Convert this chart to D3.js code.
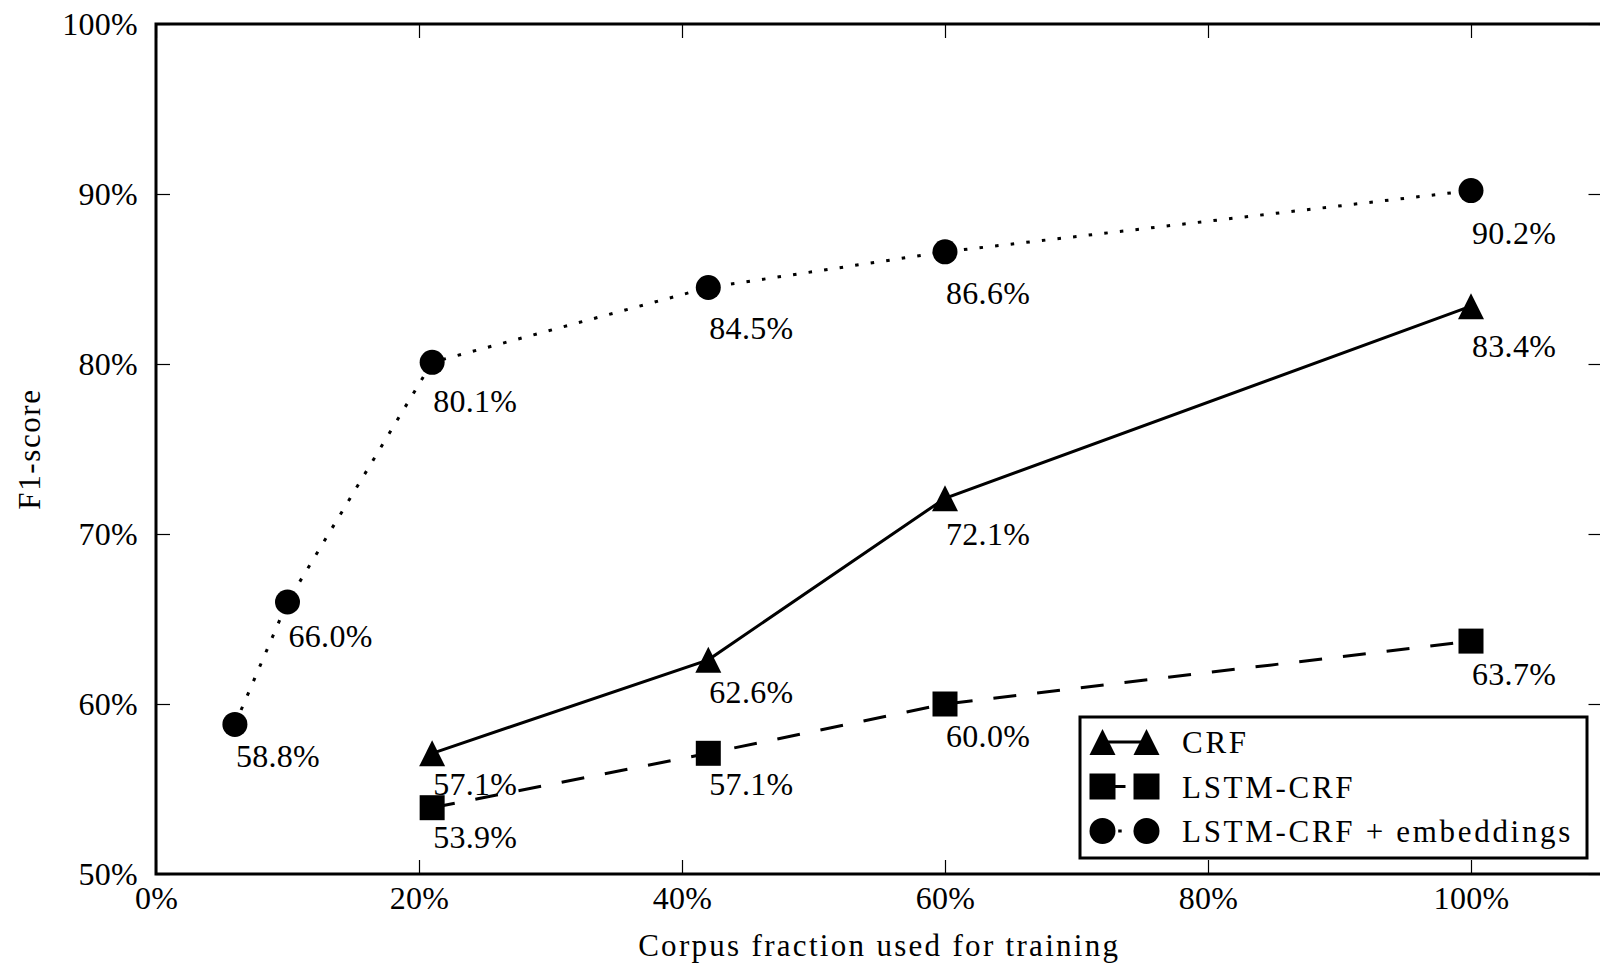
<!DOCTYPE html>
<html lang="en">
  <head>
    <meta charset="UTF-8" />
    <title>F1-score vs corpus fraction</title>
    <script src="https://cdn.jsdelivr.net/npm/d3@7"></script>
    <style>
      body {
        margin: 0;
        padding: 0;
        background: #fff;
      }
      svg text {
        font-family: "Liberation Serif", "Times New Roman", serif;
        fill: #000;
      }
    </style>
  </head>
  <body>
    <svg id="chart"></svg>

    <script>
      // data
      const embX = [6, 10, 21, 42, 60, 100];
      const embF1 = [58.8, 66.0, 80.1, 84.5, 86.6, 90.2];
      const baseX = [21, 42, 60, 100];
      const crfF1 = [57.1, 62.6, 72.1, 83.4];
      const lstmF1 = [53.9, 57.1, 60.0, 63.7];
      const seriesNames = ["CRF", "LSTM-CRF", "LSTM-CRF + embeddings"];
      const xTicks = [0, 20, 40, 60, 80, 100];
      const yTicks = [50, 60, 70, 80, 90, 100];

      const width = 1600;
      const height = 964;
      const fontSize = 31;
      const numSize = 32;

      const svg = d3.select("#chart").attr("width", width).attr("height", height);

      const x = d3.scaleLinear().domain([0, 110]).range([156, 1602.5]);
      const y = d3.scaleLinear().domain([50, 100]).range([874, 24]);

      const fmt = (d) => d + "%";

      // axes (ticks point inward, all four sides)
      const gx = svg
        .append("g")
        .attr("transform", `translate(0,${y(50)})`)
        .call(d3.axisBottom(x).tickValues(xTicks).tickFormat(fmt).tickSizeInner(-14).tickSizeOuter(0).tickPadding(12));
      const gy = svg
        .append("g")
        .attr("transform", `translate(${x(0)},0)`)
        .call(d3.axisLeft(y).tickValues(yTicks).tickFormat(fmt).tickSizeInner(-14).tickSizeOuter(0).tickPadding(18));
      const gt = svg
        .append("g")
        .attr("transform", `translate(0,${y(100)})`)
        .call(d3.axisTop(x).tickValues(xTicks).tickFormat("").tickSizeInner(-14).tickSizeOuter(0));
      const gr = svg
        .append("g")
        .attr("transform", `translate(${x(110)},0)`)
        .call(d3.axisRight(y).tickValues(yTicks).tickFormat("").tickSizeInner(-14).tickSizeOuter(0));

      [gx, gy, gt, gr].forEach((g) => {
        g.select(".domain").remove();
        g.selectAll(".tick line").attr("stroke", "#000").attr("stroke-width", 1.2);
        g.selectAll(".tick text")
          .attr("font-size", numSize)
          .attr("letter-spacing", 0.3)
          .attr("font-family", "Liberation Serif, serif");
      });

      // spines
      svg
        .append("rect")
        .attr("x", x(0))
        .attr("y", y(100))
        .attr("width", x(110) - x(0))
        .attr("height", y(50) - y(100))
        .attr("fill", "none")
        .attr("stroke", "#000")
        .attr("stroke-width", 3);

      // axis titles
      svg
        .append("text")
        .attr("x", (x(0) + x(110)) / 2)
        .attr("y", 956)
        .attr("text-anchor", "middle")
        .attr("font-size", fontSize)
        .attr("letter-spacing", 2.3)
        .text("Corpus fraction used for training");
      svg
        .append("text")
        .attr("transform", `translate(40,${(y(50) + y(100)) / 2}) rotate(-90)`)
        .attr("text-anchor", "middle")
        .attr("font-size", fontSize)
        .attr("letter-spacing", 1.6)
        .text("F1-score");

      // marker shapes
      const triPath = (s) => `M0,${-s / 2}L${s / 2},${s / 2}L${-s / 2},${s / 2}Z`;
      const sqPath = (s) => `M${-s / 2},${-s / 2}h${s}v${s}h${-s}Z`;
      const circPath = (s) => d3.symbol(d3.symbolCircle, Math.PI * (s / 2) ** 2)();

      const series = [
        { name: seriesNames[0], xs: baseX, ys: crfF1, dash: null, marker: triPath(26) },
        { name: seriesNames[1], xs: baseX, ys: lstmF1, dash: "23,21", marker: sqPath(25) },
        { name: seriesNames[2], xs: embX, ys: embF1, dash: "3.5,12.2", marker: circPath(25) },
      ];

      const line = d3
        .line()
        .x((d) => x(d[0]))
        .y((d) => y(d[1]));

      series.forEach((s) => {
        const pts = s.xs.map((v, i) => [v, s.ys[i]]);
        svg
          .append("path")
          .datum(pts)
          .attr("d", line)
          .attr("fill", "none")
          .attr("stroke", "#000")
          .attr("stroke-width", 3)
          .attr("stroke-dasharray", s.dash);

        svg
          .selectAll(null)
          .data(pts)
          .enter()
          .append("path")
          .attr("d", s.marker)
          .attr("transform", (d) => `translate(${x(d[0])},${y(d[1])})`)
          .attr("fill", "#000");

        // value labels, below right of each point
        svg
          .selectAll(null)
          .data(pts)
          .enter()
          .append("text")
          .attr("x", (d) => x(d[0]) + 1)
          .attr("y", (d) => y(d[1]) + 22 + 0.344 * d[1])
          .attr("font-size", numSize)
          .attr("letter-spacing", 0.3)
          .text((d) => d[1].toFixed(1) + "%");
      });

      // legend
      const lg = svg.append("g").attr("transform", "translate(1080,717)");
      lg.append("rect")
        .attr("width", 507)
        .attr("height", 141)
        .attr("fill", "#fff")
        .attr("stroke", "#000")
        .attr("stroke-width", 3);

      series.forEach((s, i) => {
        const ly = 25 + i * 44.5;
        lg.append("line")
          .attr("x1", 22.5)
          .attr("x2", 66.5)
          .attr("y1", ly)
          .attr("y2", ly)
          .attr("stroke", "#000")
          .attr("stroke-width", 3)
          .attr("stroke-dasharray", s.dash);
        [22.5, 66.5].forEach((mx) => {
          lg.append("path")
            .attr("d", i === 1 ? sqPath(26) : i === 0 ? s.marker : circPath(26))
            .attr("transform", `translate(${mx},${ly})`)
            .attr("fill", "#000");
        });
        lg.append("text")
          .attr("x", 102)
          .attr("y", ly + 11)
          .attr("font-size", fontSize)
          .attr("letter-spacing", 2.7)
          .text(s.name);
      });
    </script>
  </body>
</html>
